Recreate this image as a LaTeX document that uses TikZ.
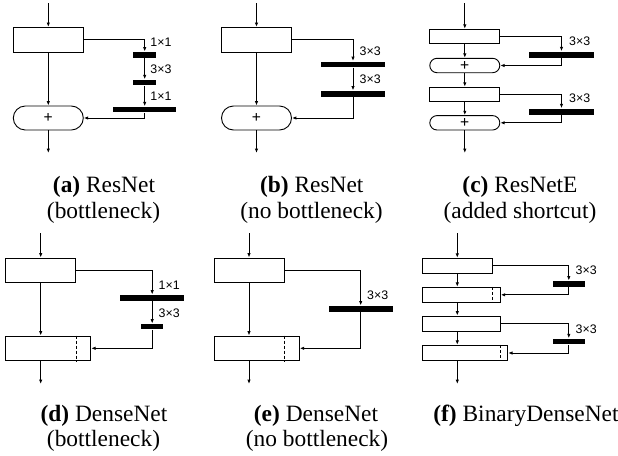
\documentclass[tikz,border=0pt]{standalone}
\usepackage{fontspec}
\setmainfont{Liberation Serif}
\newfontfamily\lblfont{Liberation Sans}
\usetikzlibrary{arrows.meta}
\begin{document}
\begin{tikzpicture}[x=0.5pt,y=-0.5pt,line width=0.45pt,
  blk/.style={draw,inner sep=0pt,minimum width=35pt,minimum height=12.3pt},
  bar/.style={fill=black,inner sep=0pt,minimum height=2.8pt},
  addnode/.style={draw,rounded corners=6pt,inner sep=0pt,minimum width=35pt,minimum height=12pt,font=\lblfont\fontsize{7.8}{8}\selectfont},
  arr/.style={-{Latex[length=2.2pt,width=1.7pt]}},
  cut/.style={dash pattern=on 1.5pt off 1pt},
  lbl/.style={anchor=west,inner sep=0pt,font=\lblfont\fontsize{6.2}{7}\selectfont},
  captxt/.style={anchor=base,inner sep=0pt,font=\fontsize{11.7}{12.5}\selectfont}]
\useasboundingbox (0,0) rectangle (618,456);
\coordinate (ain) at (48.3,3);
\node[blk] (ablk) at (48.3,39.7) {};
\node[bar,minimum width=11.4pt] (abar1) at (144.7,54.8) {};
\node[bar,minimum width=11.4pt] (abar2) at (144.7,82.5) {};
\node[bar,minimum width=31.7pt] (abar3) at (144.7,109.5) {};
\node[addnode] (aadd) at (48.3,118) {+};
\coordinate (aout) at (48.3,153);
\node[lbl] (al1) at (150,42.7) {1×1};
\node[lbl] (al2) at (150,69) {3×3};
\node[lbl] (al3) at (150,96) {1×1};
\draw[arr] (ain) -- (ablk);
\draw[arr] (ablk) -- (aadd);
\draw[arr] (aadd) -- (aout);
\draw[arr] (ablk.east) -| (abar1.north);
\draw[arr] (abar1.south) -- (abar2.north);
\draw[arr] (abar2.south) -- (abar3.north);
\draw[arr] (abar3.south) |- (aadd.east);
\coordinate (bin) at (256.5,3);
\node[blk] (bblk) at (256.5,39.7) {};
\node[bar,minimum width=32pt] (bbar1) at (353,64.3) {};
\node[bar,minimum width=32pt] (bbar2) at (353,93.7) {};
\node[addnode] (badd) at (256.5,118) {+};
\coordinate (bout) at (256.5,153);
\node[lbl] (bl1) at (359.3,51.7) {3×3};
\node[lbl] (bl2) at (359.3,79) {3×3};
\draw[arr] (bin) -- (bblk);
\draw[arr] (bblk) -- (badd);
\draw[arr] (badd) -- (bout);
\draw[arr] (bblk.east) -| (bbar1.north);
\draw[arr] (bbar1.south) -- (bbar2.north);
\draw[arr] (bbar2.south) |- (badd.east);
\coordinate (cin) at (464.8,3);
\node[blk,minimum height=7pt] (cblk1) at (464.8,36.3) {};
\node[bar,minimum width=32.2pt,minimum height=3pt] (cbar1) at (561.5,54.7) {};
\node[addnode,minimum height=7.2pt,rounded corners=3.6pt] (cadd1) at (464.8,65.5) {+};
\node[blk,minimum height=7pt] (cblk2) at (464.8,94.2) {};
\node[bar,minimum width=32.2pt,minimum height=3pt] (cbar2) at (561.5,111.7) {};
\node[addnode,minimum height=7.2pt,rounded corners=3.6pt] (cadd2) at (464.8,122.8) {+};
\coordinate (cout) at (464.8,153);
\node[lbl] (cl1) at (568.7,41.7) {3×3};
\node[lbl] (cl2) at (568.7,98.3) {3×3};
\draw[arr] (cin) -- (cblk1);
\draw[arr] (cblk1) -- (cadd1);
\draw[arr] (cadd1) -- (cblk2);
\draw[arr] (cblk2) -- (cadd2);
\draw[arr] (cadd2) -- (cout);
\draw[arr] (cblk1.east) -| (cbar1.north);
\draw[arr] (cbar1.south) |- (cadd1.east);
\draw[arr] (cblk2.east) -| (cbar2.north);
\draw[arr] (cbar2.south) |- (cadd2.east);
\coordinate (din) at (40.7,233.3);
\node[blk] (dblk1) at (40.7,270.3) {};
\node[bar,minimum width=32.2pt,minimum height=3pt] (dbar1) at (152.2,298) {};
\node[bar,minimum width=10.8pt,minimum height=2.7pt] (dbar2) at (152.2,326.7) {};
\node[blk,minimum width=42.5pt] (dblk2) at (48.2,348.3) {};
\coordinate (dout) at (40.7,384);
\node[lbl] (dl1) at (158.3,285) {1×1};
\node[lbl] (dl2) at (158.3,313.3) {3×3};
\draw[cut] (dblk1.east |- dblk2.north) -- (dblk1.east |- dblk2.south);
\draw[arr] (din) -- (dblk1);
\draw[arr] (dblk1.south) -- (dblk1.south |- dblk2.north);
\draw[arr] (dblk1.south |- dblk2.south) -- (dout);
\draw[arr] (dblk1.east) -| (dbar1.north);
\draw[arr] (dbar1.south) -- (dbar2.north);
\draw[arr] (dbar2.south) |- (dblk2.east);
\coordinate (ein) at (249,233.3);
\node[blk] (eblk1) at (249,270.3) {};
\node[bar,minimum width=32pt,minimum height=2.9pt] (ebar) at (360.7,308.8) {};
\node[blk,minimum width=42.5pt] (eblk2) at (256.8,348.3) {};
\coordinate (eout) at (249,384);
\node[lbl] (el1) at (366.7,295) {3×3};
\draw[cut] (eblk1.east |- eblk2.north) -- (eblk1.east |- eblk2.south);
\draw[arr] (ein) -- (eblk1);
\draw[arr] (eblk1.south) -- (eblk1.south |- eblk2.north);
\draw[arr] (eblk1.south |- eblk2.south) -- (eout);
\draw[arr] (eblk1.east) -| (ebar.north);
\draw[arr] (ebar.south) |- (eblk2.east);
\coordinate (fin) at (457.3,233.3);
\node[blk,minimum height=7.5pt] (fblk1) at (457.3,265.8) {};
\node[bar,minimum width=15.8pt] (fbar1) at (568.8,283.8) {};
\node[blk,minimum width=38.8pt,minimum height=7.5pt] (fblk2) at (461.5,294.8) {};
\node[blk,minimum width=38.8pt,minimum height=7.8pt] (fblk3) at (461.5,323.8) {};
\node[bar,minimum width=15.8pt] (fbar2) at (568.8,341.5) {};
\node[blk,minimum width=42.5pt,minimum height=7.7pt] (fblk4) at (465.2,353) {};
\coordinate (fout) at (457.3,384);
\node[lbl] (fl1) at (575.3,270.7) {3×3};
\node[lbl] (fl2) at (575.3,329) {3×3};
\draw[cut] (fblk1.east |- fblk2.north) -- (fblk1.east |- fblk2.south);
\draw[cut] (fblk3.east |- fblk4.north) -- (fblk3.east |- fblk4.south);
\draw[arr] (fin) -- (fblk1);
\draw[arr] (fblk1.south) -- (fblk1.south |- fblk2.north);
\draw[arr] (fblk1.south |- fblk2.south) -- (fblk1.south |- fblk3.north);
\draw[arr] (fblk1.south |- fblk3.south) -- (fblk1.south |- fblk4.north);
\draw[arr] (fblk1.south |- fblk4.south) -- (fout);
\draw[arr] (fblk1.east) -| (fbar1.north);
\draw[arr] (fbar1.south) |- (fblk2.east);
\draw[arr] (fblk3.east) -| (fbar2.north);
\draw[arr] (fbar2.south) |- (fblk4.east);
\node[captxt] (acap1) at (104,192.5) {\textbf{(a)} ResNet};
\node[captxt] (acap2) at (103.5,218) {(bottleneck)};
\node[captxt] (bcap1) at (311.8,192.5) {\textbf{(b)} ResNet};
\node[captxt] (bcap2) at (311.5,218) {(no bottleneck)};
\node[captxt] (ccap1) at (520,192.5) {\textbf{(c)} ResNetE};
\node[captxt] (ccap2) at (520,218) {(added shortcut)};
\node[captxt] (dcap1) at (104,421) {\textbf{(d)} DenseNet};
\node[captxt] (dcap2) at (103.5,446) {(bottleneck)};
\node[captxt] (ecap1) at (316,421) {\textbf{(e)} DenseNet};
\node[captxt] (ecap2) at (317,446) {(no bottleneck)};
\node[captxt] (fcap1) at (526,421) {\textbf{(f)} BinaryDenseNet};
\end{tikzpicture}
\end{document}
